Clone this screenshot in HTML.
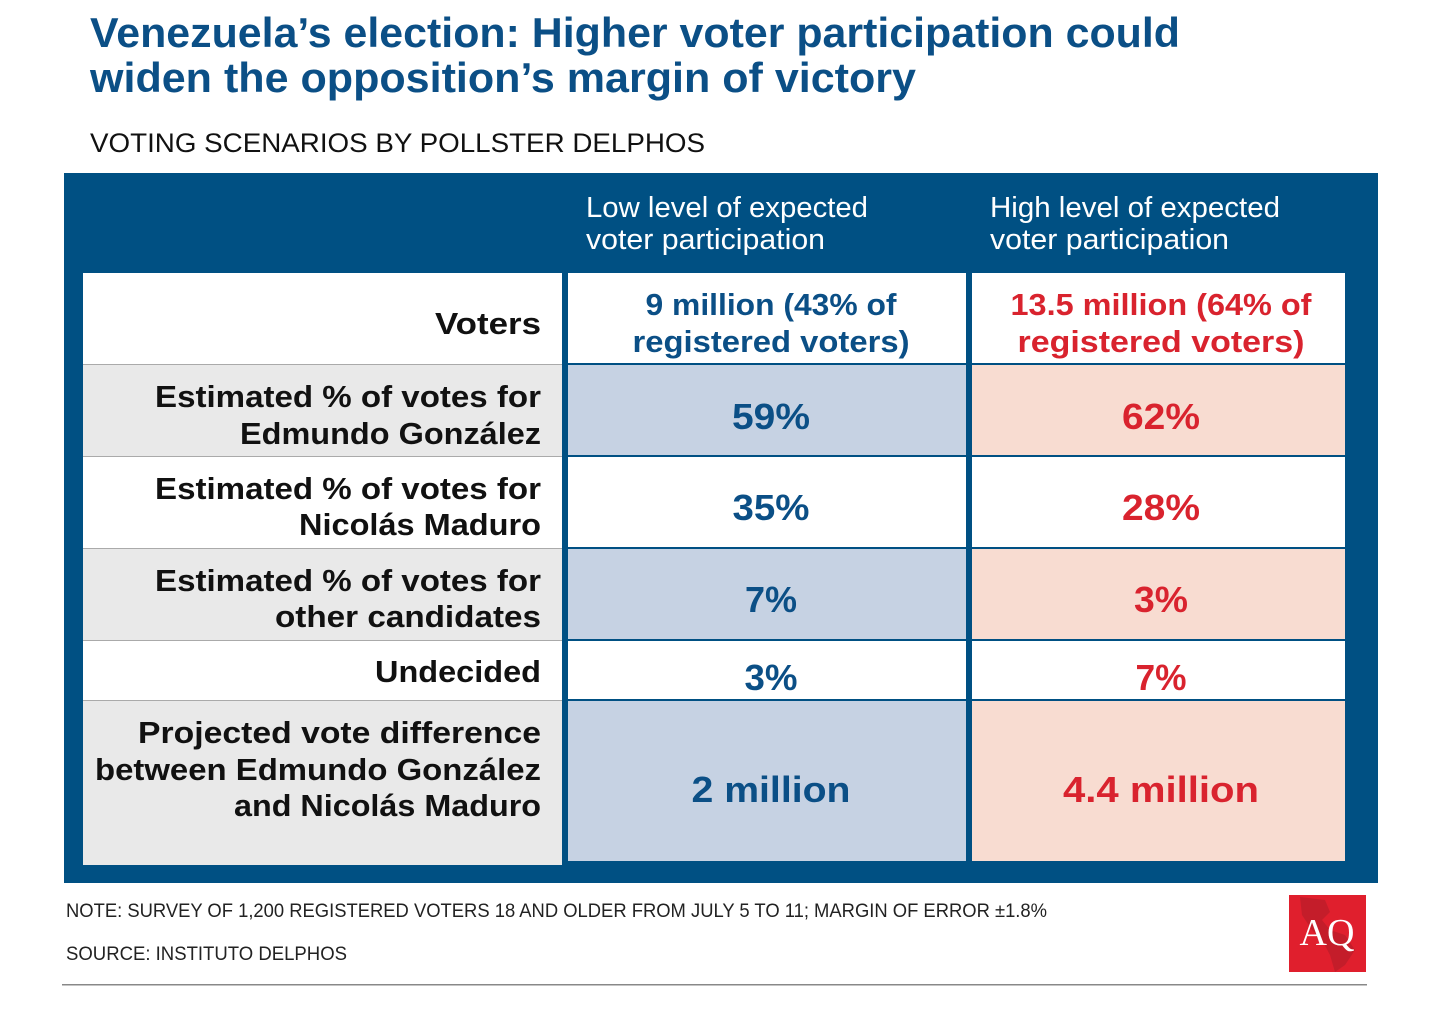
<!DOCTYPE html>
<html><head><meta charset="utf-8"><style>
html,body{margin:0;padding:0;background:#fff;}
svg{display:block;font-family:"Liberation Sans",sans-serif;}
</style></head><body>
<svg width="1447" height="1035" viewBox="0 0 1447 1035">
<rect width="1447" height="1035" fill="#fff"/>
<g fill="#0b4f86" font-weight="bold" font-size="42">
<text x="90" y="47" textLength="1090" lengthAdjust="spacingAndGlyphs">Venezuela’s election: Higher voter participation could</text>
<text x="90" y="92" textLength="826" lengthAdjust="spacingAndGlyphs">widen the opposition’s margin of victory</text>
</g>
<text x="90" y="152" font-size="27" fill="#111" textLength="615" lengthAdjust="spacingAndGlyphs">VOTING SCENARIOS BY POLLSTER DELPHOS</text>

<rect x="64" y="173" width="1314" height="710" fill="#005083"/>
<g font-size="29" fill="#fff">
<text x="586" y="217" textLength="282" lengthAdjust="spacingAndGlyphs">Low level of expected</text>
<text x="586" y="249" textLength="239" lengthAdjust="spacingAndGlyphs">voter participation</text>
<text x="990" y="217" textLength="290" lengthAdjust="spacingAndGlyphs">High level of expected</text>
<text x="990" y="249" textLength="239" lengthAdjust="spacingAndGlyphs">voter participation</text>
</g>

<!-- label column -->
<g>
<rect x="83" y="273" width="479" height="91" fill="#fff"/>
<rect x="83" y="365" width="479" height="91" fill="#e9e9e9"/>
<rect x="83" y="457" width="479" height="91" fill="#fff"/>
<rect x="83" y="549" width="479" height="91" fill="#e9e9e9"/>
<rect x="83" y="641" width="479" height="59" fill="#fff"/>
<rect x="83" y="701" width="479" height="164" fill="#e9e9e9"/>
<g fill="#aaa"><rect x="83" y="364" width="479" height="1"/><rect x="83" y="456" width="479" height="1"/><rect x="83" y="548" width="479" height="1"/><rect x="83" y="640" width="479" height="1"/><rect x="83" y="700" width="479" height="1"/></g>

<rect x="568" y="273" width="398" height="90" fill="#fff"/>
<rect x="568" y="365" width="398" height="90" fill="#c6d2e3"/>
<rect x="568" y="457" width="398" height="90" fill="#fff"/>
<rect x="568" y="549" width="398" height="90" fill="#c6d2e3"/>
<rect x="568" y="641" width="398" height="58" fill="#fff"/>
<rect x="568" y="701" width="398" height="160" fill="#c6d2e3"/>

<rect x="972" y="273" width="373" height="90" fill="#fff"/>
<rect x="972" y="365" width="373" height="90" fill="#f8dcd1"/>
<rect x="972" y="457" width="373" height="90" fill="#fff"/>
<rect x="972" y="549" width="373" height="90" fill="#f8dcd1"/>
<rect x="972" y="641" width="373" height="58" fill="#fff"/>
<rect x="972" y="701" width="373" height="160" fill="#f8dcd1"/>
</g>

<g font-weight="bold" font-size="31" fill="#111" text-anchor="end">
<text x="541" y="334" textLength="106" lengthAdjust="spacingAndGlyphs">Voters</text>
<text x="541" y="407" textLength="386" lengthAdjust="spacingAndGlyphs">Estimated % of votes for</text>
<text x="541" y="444" textLength="301" lengthAdjust="spacingAndGlyphs">Edmundo González</text>
<text x="541" y="499" textLength="386" lengthAdjust="spacingAndGlyphs">Estimated % of votes for</text>
<text x="541" y="535" textLength="242" lengthAdjust="spacingAndGlyphs">Nicolás Maduro</text>
<text x="541" y="591" textLength="386" lengthAdjust="spacingAndGlyphs">Estimated % of votes for</text>
<text x="541" y="627" textLength="266" lengthAdjust="spacingAndGlyphs">other candidates</text>
<text x="541" y="682" textLength="166" lengthAdjust="spacingAndGlyphs">Undecided</text>
<text x="541" y="743" textLength="403" lengthAdjust="spacingAndGlyphs">Projected vote difference</text>
<text x="541" y="780" textLength="446" lengthAdjust="spacingAndGlyphs">between Edmundo González</text>
<text x="541" y="816" textLength="307" lengthAdjust="spacingAndGlyphs">and Nicolás Maduro</text>
</g>

<g font-weight="bold" fill="#0b4f86" text-anchor="middle">
<text x="771" y="315" font-size="31" textLength="251" lengthAdjust="spacingAndGlyphs">9 million (43% of</text>
<text x="771" y="352" font-size="31" textLength="277" lengthAdjust="spacingAndGlyphs">registered voters)</text>
<text x="771" y="429" font-size="36" textLength="78" lengthAdjust="spacingAndGlyphs">59%</text>
<text x="771" y="520" font-size="36" textLength="77" lengthAdjust="spacingAndGlyphs">35%</text>
<text x="771" y="612" font-size="36" textLength="52" lengthAdjust="spacingAndGlyphs">7%</text>
<text x="771" y="690" font-size="36" textLength="53" lengthAdjust="spacingAndGlyphs">3%</text>
<text x="771" y="802" font-size="36" textLength="159" lengthAdjust="spacingAndGlyphs">2 million</text>
</g>
<g font-weight="bold" fill="#d9232e" text-anchor="middle">
<text x="1161" y="315" font-size="31" textLength="301" lengthAdjust="spacingAndGlyphs">13.5 million (64% of</text>
<text x="1161" y="352" font-size="31" textLength="287" lengthAdjust="spacingAndGlyphs">registered voters)</text>
<text x="1161" y="429" font-size="36" textLength="78" lengthAdjust="spacingAndGlyphs">62%</text>
<text x="1161" y="520" font-size="36" textLength="78" lengthAdjust="spacingAndGlyphs">28%</text>
<text x="1161" y="612" font-size="36" textLength="54" lengthAdjust="spacingAndGlyphs">3%</text>
<text x="1161" y="690" font-size="36" textLength="51" lengthAdjust="spacingAndGlyphs">7%</text>
<text x="1161" y="802" font-size="36" textLength="196" lengthAdjust="spacingAndGlyphs">4.4 million</text>
</g>

<text x="66" y="917" font-size="19" fill="#222" textLength="981" lengthAdjust="spacingAndGlyphs">NOTE: SURVEY OF 1,200 REGISTERED VOTERS 18 AND OLDER FROM JULY 5 TO 11; MARGIN OF ERROR ±1.8%</text>
<text x="66" y="960" font-size="19" fill="#222" textLength="281" lengthAdjust="spacingAndGlyphs">SOURCE: INSTITUTO DELPHOS</text>

<g>
<rect x="1289" y="895" width="77" height="77" fill="#e01f2d"/>
<path d="M1300 897 L1325 900 L1330 912 L1322 920 L1330 930 L1345 935 L1355 950 L1345 965 L1335 972 L1330 955 L1322 940 L1312 930 L1302 915 Z" fill="#b81c2a" opacity="0.7"/>
<text x="1327" y="945" font-family="Liberation Serif,serif" font-size="38" fill="#fff" text-anchor="middle">AQ</text>
</g>
<rect x="62" y="984" width="1305" height="1.5" fill="#888"/>
</svg>
</body></html>
